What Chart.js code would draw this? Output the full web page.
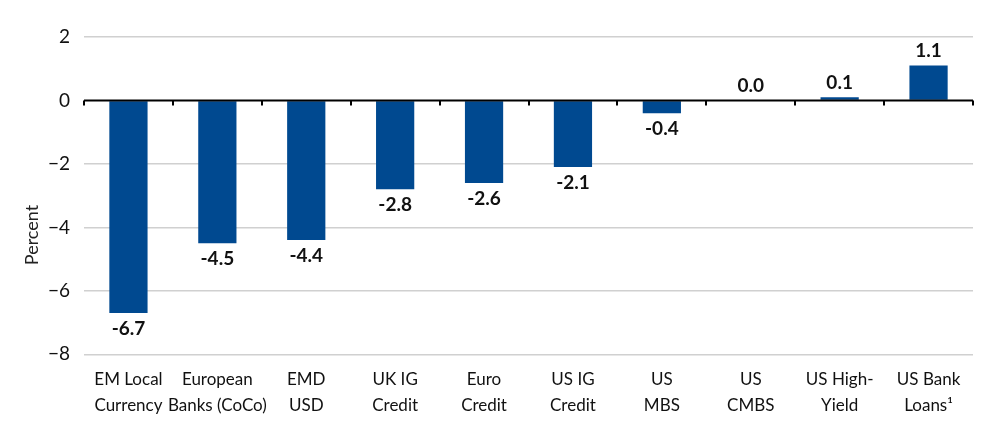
<!DOCTYPE html>
<html>
<head>
<meta charset="utf-8">
<script src="https://cdn.jsdelivr.net/npm/chart.js@4.4.1/dist/chart.umd.min.js"></script>
<style>
  html, body { margin: 0; padding: 0; background: #fff; }
  #wrap { width: 1000px; height: 440px; }
</style>
</head>
<body>
<div id="wrap"><canvas id="chart"></canvas></div>
<script>
// Chart data
const categories = [
    ['EM Local', 'Currency'],
    ['European', 'Banks (CoCo)'],
    ['EMD', 'USD'],
    ['UK IG', 'Credit'],
    ['Euro', 'Credit'],
    ['US IG', 'Credit'],
    ['US', 'MBS'],
    ['US', 'CMBS'],
    ['US High-', 'Yield'],
    ['US Bank', 'Loans\u00b9']
];
const returns = [-6.7, -4.5, -4.4, -2.8, -2.6, -2.1, -0.4, 0.0, 0.1, 1.1];
const yTicks = [2, 0, -2, -4, -6, -8];

const FONT = 'Lato, "Open Sans", sans-serif';
const BAR_COLOR = '#004990';

// Draws the value above (or below, when negative) each bar
const valueLabels = {
    id: 'valueLabels',
    afterDatasetsDraw(chart) {
        const ctx = chart.ctx;
        const meta = chart.getDatasetMeta(0);
        ctx.save();
        ctx.font = 'bold 19px ' + FONT;
        ctx.fillStyle = '#111';
        ctx.textAlign = 'center';
        meta.data.forEach((bar, i) => {
            const v = returns[i];
            if (v < 0) {
                ctx.textBaseline = 'top';
                ctx.fillText(v.toFixed(1), bar.x, bar.y + 6);
            } else {
                ctx.textBaseline = 'bottom';
                ctx.fillText(v.toFixed(1), bar.x, bar.y - 5);
            }
        });
        ctx.restore();
    }
};

// Short tick marks on the zero line between categories
const zeroTicks = {
    id: 'zeroTicks',
    afterDatasetsDraw(chart) {
        const { ctx, scales: { x, y } } = chart;
        const y0 = y.getPixelForValue(0);
        const step = (x.right - x.left) / categories.length;
        ctx.save();
        ctx.strokeStyle = '#000';
        ctx.lineWidth = 2;
        ctx.beginPath();
        ctx.moveTo(x.left, y0);
        ctx.lineTo(x.right, y0);
        for (let i = 0; i <= categories.length; i++) {
            const px = Math.round(x.left + i * step);
            ctx.moveTo(px, y0);
            ctx.lineTo(px, y0 + 5);
        }
        ctx.stroke();
        ctx.restore();
    }
};

// Rotated "Percent" axis title
const axisTitle = {
    id: 'axisTitle',
    afterDraw(chart) {
        const ctx = chart.ctx;
        ctx.save();
        ctx.translate(32, 235);
        ctx.rotate(-Math.PI / 2);
        ctx.font = '18px ' + FONT;
        ctx.fillStyle = '#222';
        ctx.textAlign = 'center';
        ctx.textBaseline = 'middle';
        ctx.fillText('Percent', 0, 0);
        ctx.restore();
    }
};

new Chart(document.getElementById('chart'), {
    type: 'bar',
    data: {
        labels: categories,
        datasets: [{
            data: returns,
            backgroundColor: BAR_COLOR,
            categoryPercentage: 0.86,
            barPercentage: 0.5
        }]
    },
    options: {
        responsive: true,
        maintainAspectRatio: false,
        animation: false,
        layout: { padding: { top: 37, right: 27, left: 0, bottom: 9 } },
        plugins: {
            legend: { display: false },
            tooltip: { enabled: false }
        },
        scales: {
            x: {
                grid: { display: false, drawTicks: false },
                border: { display: false },
                ticks: {
                    color: '#111',
                    font: { family: FONT, size: 17, lineHeight: 1.55 },
                    padding: 12,
                    maxRotation: 0,
                    autoSkip: false
                }
            },
            y: {
                min: -8,
                max: 2,
                afterFit: axis => { axis.width = 84; },
                afterBuildTicks: axis => {
                    axis.ticks = yTicks.map(v => ({ value: v }));
                },
                grid: {
                    color: ctx => ctx.tick && ctx.tick.value === 0 ? 'rgba(0,0,0,0)' : '#d0d0d0',
                    lineWidth: 1.5,
                    drawTicks: false
                },
                border: { display: false },
                ticks: {
                    color: '#111',
                    font: { family: FONT, size: 19 },
                    padding: 14,
                    callback: v => v < 0 ? '\u2212' + Math.abs(v) : String(v)
                }
            }
        }
    },
    plugins: [valueLabels, zeroTicks, axisTitle]
});
</script>
</body>
</html>
